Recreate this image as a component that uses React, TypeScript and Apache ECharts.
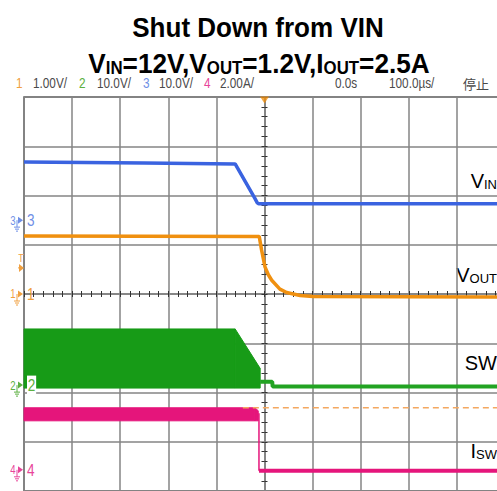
import React, { useEffect, useRef } from "react";
import * as echarts from "echarts";

// ---------------- scope settings ----------------
const timeMin = -500; // µs (100 µs/div, trigger at 0)
const timeMax = 500;
const timeDiv = 100;
const vertDivs = 4; // divisions above / below the centre line

// per-channel units/div and ground-marker offset in divisions from centre
const ch1Scale = 1; // VOUT 1.00V/
const ch1Offset = 0;
const ch2Scale = 10; // SW 10.0V/
const ch2Offset = -1.85;
const ch3Scale = 10; // VIN 10.0V/
const ch3Offset = 1.5;
const ch4Scale = 2; // ISW 2.00A/
const ch4Offset = -3.57;

// ---------------- header texts ----------------
const channelNumbers = ["1", "2", "3", "4"];
const channelScaleLabels = ["1.00V/", "10.0V/", "10.0V/", "2.00A/"];
const timeLabels = ["0.0s", "100.0µs/", "停止"];

// ---------------- traces (time in µs) ----------------
// VIN (ch3, V)
const vinTime = [-500, -250, -61, -20, -15, -12, 500];
const vinVolts = [11.8, 11.6, 11.4, 4.4, 3.5, 3.3, 3.3];

// VOUT (ch1, V)
const voutTime = [-500, -11, -6, 1, 8, 15, 32, 46, 60, 74, 101, 500];
const voutVolts = [1.18, 1.17, 0.89, 0.55, 0.39, 0.28, 0.1, 0.03, 0.0, -0.03, -0.05, -0.06];

// SW (ch2, V): switching burst envelope then idle
const swBurstTime = [-500, -61, -9];
const swBurstHigh = [11.4, 11.4, 3.4];
const swBurstLow = [-0.6, -0.6, -0.6];
const swTailTime = [-9, 16, 17, 500];
const swTailVolts = [0.7, 0.7, -0.3, -0.3];

// ISW (ch4, A): ripple envelope then zero
const iswRippleTime = [-500, -20, -13];
const iswRippleHigh = [2.52, 2.52, 2.4];
const iswRippleLow = [1.99, 1.99, 1.99];
const iswDropTime = [-11.5, -11.5];
const iswDropAmps = [2.3, -0.04];
const iswTailTime = [-11.5, 500];
const iswTailAmps = [-0.04, -0.04];

// cursor (dashed orange, on ch4) and trigger level (ch1)
const cursorTime = [-45, 500];
const cursorAmps = [2.52, 2.52];
const triggerLevel = 0.53;

// ---------------- styles ----------------
const sans = '"Liberation Sans", Arial, sans-serif';
const cBlue = "#3a63e0";
const cOrange = "#f0900f";
const cGreen = "#179b17";
const cPink = "#e5157b";
const markerColors = ["#f0a040", "#5cb040", "#6f8fe6", "#e8459a"];

const zip = (xs: number[], ys: number[]) => xs.map((x, i) => [x, ys[i]]);
const zip3 = (xs: number[], hs: number[], ls: number[]) => xs.map((x, i) => [x, hs[i], ls[i]]);

function chAxis(scale: number, offset: number) {
  return {
    type: "value",
    min: (-vertDivs - offset) * scale,
    max: (vertDivs - offset) * scale,
    show: false,
    splitLine: { show: false },
  };
}

function bandRenderer(color: string) {
  return (params: any, api: any) => {
    const i = params.dataIndexInside;
    const n = params.dataInsideLength;
    if (i >= n - 1) return { type: "group", children: [] };
    const a = api.coord([api.value(0, i), api.value(1, i)]);
    const b = api.coord([api.value(0, i + 1), api.value(1, i + 1)]);
    const c = api.coord([api.value(0, i + 1), api.value(2, i + 1)]);
    const d = api.coord([api.value(0, i), api.value(2, i)]);
    return {
      type: "polygon",
      shape: { points: [a, b, c, d] },
      style: { fill: color, stroke: color, lineWidth: 1 },
    };
  };
}

function groundMarker(label: string, color: string, boxed: boolean) {
  return (_params: any, api: any) => {
    const p = api.coord([api.value(0), api.value(1)]);
    const x = p[0];
    const y = p[1];
    const ln = (x1: number, y1: number, x2: number, y2: number) => ({
      type: "line",
      shape: { x1, y1, x2, y2 },
      style: { stroke: color, lineWidth: 1 },
    });
    return {
      type: "group",
      children: [
        {
          type: "text",
          x: x - 11,
          y: y,
          scaleX: 0.8,
          style: { text: label, align: "center", verticalAlign: "middle", fontSize: 12, fontFamily: sans, fill: color },
        },
        { type: "polygon", shape: { points: [[x - 6, y - 3.5], [x - 1, y], [x - 6, y + 3.5]] }, style: { fill: color } },
        ln(x - 7, y, x - 7, y + 7),
        ln(x - 10, y + 7, x - 4, y + 7),
        ln(x - 9, y + 9, x - 5, y + 9),
        ln(x - 8, y + 11, x - 6, y + 11),
        {
          type: "text",
          x: x + 3,
          y: y,
          scaleX: 0.8,
          style: {
            text: label,
            align: "left",
            verticalAlign: "middle",
            fontSize: 17,
            fontFamily: sans,
            fill: color,
            backgroundColor: boxed ? "#ffffff" : "transparent",
            padding: boxed ? [1, 1, 1, 1] : 0,
          },
        },
      ],
    };
  };
}

function triggerMarker(_params: any, api: any) {
  const p = api.coord([api.value(0), api.value(1)]);
  const x = p[0];
  const y = p[1];
  return {
    type: "group",
    children: [
      { type: "text", x: x - 3, y: y - 10, scaleX: 0.8, style: { text: "T", align: "center", verticalAlign: "middle", fontSize: 11, fontFamily: sans, fill: markerColors[0] } },
      { type: "polygon", shape: { points: [[x - 5, y - 4], [x, y], [x - 5, y + 4]] }, style: { fill: markerColors[0] } },
      { type: "line", shape: { x1: x - 6, y1: y, x2: x - 3, y2: y }, style: { stroke: markerColors[0], lineWidth: 1 } },
    ],
  };
}

function buildOption(): any {
  const xBase = { type: "value", min: timeMin, max: timeMax, interval: timeDiv, axisLabel: { show: false } };
  const tickStyle = { color: "#333", width: 1 };
  const gridLine = { color: "#858585", width: 1.5 };
  const lineSeries = (name: string, data: number[][], yAxisIndex: number, color: string, width: number, extra: any = {}) => ({
    name,
    type: "line",
    data,
    yAxisIndex,
    symbol: "none",
    silent: true,
    lineStyle: { color, width },
    itemStyle: { color },
    ...extra,
  });
  const band = (name: string, data: number[][], yAxisIndex: number, color: string) => ({
    name,
    type: "custom",
    data,
    yAxisIndex,
    encode: { x: 0, y: [1, 2] },
    renderItem: bandRenderer(color),
    silent: true,
  });

  const headerGraphics: any[] = [];
  const chX = [16, 79, 143, 204];
  const scX = [33, 97, 159, 220];
  const hdrFont = `15.5px ${sans}`;
  const hdrScale = 0.76;
  channelNumbers.forEach((n, i) => {
    headerGraphics.push({ type: "text", x: chX[i], y: 83, scaleX: hdrScale, style: { text: n, fill: markerColors[i], font: hdrFont, verticalAlign: "middle" } });
    headerGraphics.push({ type: "text", x: scX[i], y: 83, scaleX: hdrScale, style: { text: channelScaleLabels[i], fill: "#4a4a4a", font: hdrFont, verticalAlign: "middle" } });
  });
  const tX = [335, 389, 463];
  timeLabels.forEach((t, i) => {
    headerGraphics.push({
      type: "text",
      x: tX[i],
      y: 83,
      scaleX: i === 2 ? 1 : hdrScale,
      style: { text: t, fill: "#4a4a4a", font: i === 2 ? `13px "Noto Sans CJK JP", sans-serif` : hdrFont, verticalAlign: "middle" },
    });
  });

  const sub = (color: string, big: number, small: number) => ({
    a: { fontSize: big, fontFamily: sans, color, verticalAlign: "bottom", lineHeight: big },
    b: { fontSize: small, fontFamily: sans, color, verticalAlign: "bottom", lineHeight: small },
  });

  const yCenter = (inside: boolean, split: boolean) => ({
    type: "value",
    position: "left",
    min: (-vertDivs - ch1Offset) * ch1Scale,
    max: (vertDivs - ch1Offset) * ch1Scale,
    interval: ch1Scale,
    axisLabel: { show: false },
    axisLine: { show: true, onZero: true, onZeroAxisIndex: 0, lineStyle: gridLine },
    axisTick: { show: true, length: 3, inside, lineStyle: tickStyle },
    minorTick: { show: true, splitNumber: 5, length: 3, lineStyle: tickStyle },
    splitLine: { show: split, lineStyle: gridLine },
  });

  return {
    animation: false,
    backgroundColor: "#ffffff",
    grid: {
      left: 24,
      top: 97,
      width: 481,
      height: 394,
      containLabel: false,
      outerBoundsMode: "none",
      show: true,
      borderColor: "#555",
      borderWidth: 1.5,
      backgroundColor: "transparent",
    },
    xAxis: [
      {
        ...xBase,
        position: "bottom",
        axisLine: { show: true, onZero: true, onZeroAxisIndex: 0, lineStyle: gridLine },
        axisTick: { show: true, length: 3, inside: false, lineStyle: tickStyle },
        minorTick: { show: true, splitNumber: 5, length: 3, lineStyle: tickStyle },
        splitLine: { show: true, lineStyle: gridLine },
      },
      {
        ...xBase,
        position: "bottom",
        axisLine: { show: true, onZero: true, onZeroAxisIndex: 0, lineStyle: gridLine },
        axisTick: { show: true, length: 3, inside: true, lineStyle: tickStyle },
        minorTick: { show: true, splitNumber: 5, length: 3, lineStyle: tickStyle },
        splitLine: { show: false },
      },
    ],
    yAxis: [yCenter(false, true), chAxis(ch2Scale, ch2Offset), chAxis(ch3Scale, ch3Offset), chAxis(ch4Scale, ch4Offset), yCenter(true, false)],
    series: [
      // SW burst envelope and idle level
      band("SW burst", zip3(swBurstTime, swBurstHigh, swBurstLow), 1, cGreen),
      lineSeries("SW", zip(swTailTime, swTailVolts), 1, "#22a322", 4),
      // ISW ripple envelope, fall and zero level
      band("ISW ripple", zip3(iswRippleTime, iswRippleHigh, iswRippleLow), 3, cPink),
      lineSeries("ISW drop", zip(iswDropTime, iswDropAmps), 3, cPink, 1.5),
      lineSeries("ISW", zip(iswTailTime, iswTailAmps), 3, cPink, 4),
      lineSeries("cursor", zip(cursorTime, cursorAmps), 3, "#f4a860", 1.3, { lineStyle: { color: "#f4a860", width: 1.3, type: [6, 4] } }),
      // VOUT and VIN
      lineSeries("VOUT", zip(voutTime, voutVolts), 0, cOrange, 3.5),
      lineSeries("VIN", zip(vinTime, vinVolts), 2, cBlue, 3.5),
      // trigger position marker at top
      {
        type: "scatter",
        data: [[0, vertDivs * ch1Scale]],
        yAxisIndex: 0,
        symbol: "triangle",
        symbolRotate: 180,
        symbolSize: [9, 7],
        symbolOffset: [0, 3],
        itemStyle: { color: cOrange },
        silent: true,
      },
      // ground reference markers
      { type: "custom", yAxisIndex: 2, data: [[timeMin, 0]], renderItem: groundMarker("3", markerColors[2], false), silent: true },
      { type: "custom", yAxisIndex: 0, data: [[timeMin, triggerLevel]], renderItem: triggerMarker, silent: true },
      { type: "custom", yAxisIndex: 0, data: [[timeMin, 0]], renderItem: groundMarker("1", markerColors[0], false), silent: true },
      { type: "custom", yAxisIndex: 1, data: [[timeMin, 0]], renderItem: groundMarker("2", markerColors[1], true), silent: true },
      { type: "custom", yAxisIndex: 3, data: [[timeMin, 0]], renderItem: groundMarker("4", markerColors[3], false), silent: true },
    ],
    graphic: [
      {
        type: "text",
        x: 258,
        y: 28,
        scaleX: 0.93,
        style: { text: "Shut Down from VIN", fill: "#000", font: `bold 28px ${sans}`, align: "center", verticalAlign: "middle" },
      },
      {
        type: "text",
        x: 259,
        y: 62,
        scaleX: 0.935,
        style: {
          text: "{a|V}{b|IN}{a|=12V,V}{b|OUT}{a|=1.2V,I}{b|OUT}{a|=2.5A}",
          align: "center",
          verticalAlign: "middle",
          rich: {
            a: { fontSize: 28, fontWeight: "bold", fontFamily: sans, color: "#000", verticalAlign: "bottom", lineHeight: 30 },
            b: { fontSize: 18, fontWeight: "bold", fontFamily: sans, color: "#000", verticalAlign: "bottom", lineHeight: 21 },
          },
        },
      },
      ...headerGraphics,
      { type: "text", x: 497, y: 181, style: { text: "{a|V}{b|IN}", align: "right", verticalAlign: "middle", rich: sub("#2a7ad8", 20, 13) } },
      { type: "text", x: 497, y: 275, style: { text: "{a|V}{b|OUT}", align: "right", verticalAlign: "middle", rich: sub("#f08a3a", 20, 13) } },
      { type: "text", x: 497, y: 363, style: { text: "{a|SW}", align: "right", verticalAlign: "middle", rich: sub("#5cb035", 20, 13) } },
      { type: "text", x: 497, y: 451, style: { text: "{a|I}{b|SW}", align: "right", verticalAlign: "middle", rich: sub("#e0282a", 20, 13) } },
    ],
  };
}

export default function App() {
  const ref = useRef<HTMLDivElement>(null);
  useEffect(() => {
    if (!ref.current) return;
    const chart = echarts.init(ref.current, null, { renderer: "svg" });
    chart.setOption(buildOption());
    return () => chart.dispose();
  }, []);
  return <div ref={ref} style={{ position: "fixed", left: 0, top: 0, width: 497, height: 491 }} />;
}
